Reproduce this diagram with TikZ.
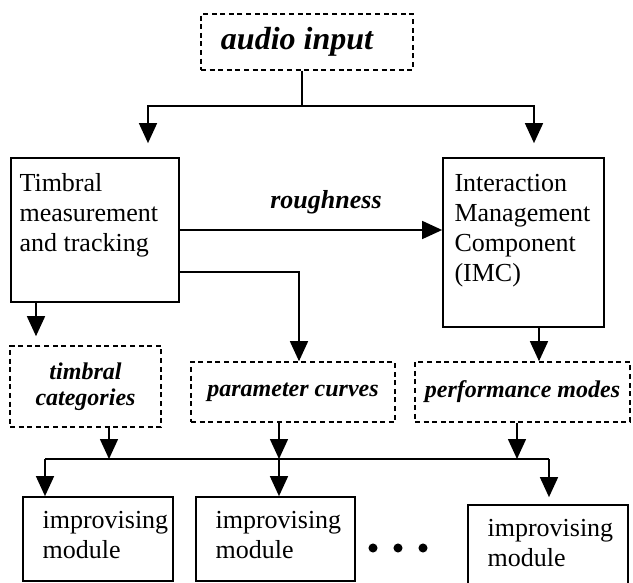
\documentclass[tikz,border=0pt]{standalone}
\usepackage{fontspec}
\setmainfont{Liberation Serif}
\usetikzlibrary{arrows.meta}

\begin{document}
\begin{tikzpicture}[x=0.5pt, y=-0.5pt,
            every node/.style = {font=\fontsize{13}{15}\selectfont},
            box/.style = {draw, line width=0.85pt, inner sep=0},
            dbox/.style = {draw, dashed, dash pattern=on 2.5pt off 1.8pt,
                line width=0.8pt, inner sep=0, align=center,
                font=\fontsize{12}{13}\selectfont\bfseries\itshape},
            txt/.style = {anchor=north west, align=left, inner sep=0},
            arr/.style = {line width=0.75pt, -{Triangle[width=9pt,length=10pt]}},
            line/.style = {line width=0.75pt},
            dot/.style = {circle, fill, inner sep=1.6pt}]

            \path[use as bounding box, clip] (0,0) rectangle (633,583);

            \node[dbox, minimum width=106pt, minimum height=28pt,
                font=\fontsize{16}{18}\selectfont\bfseries\itshape] (audio) at (307,42) {audio input\hspace{10pt}};

            \node[box, minimum width=84pt, minimum height=72pt] (timbral) at (95,230) {};
            \node[txt] (timbraltxt) at ([xshift=4.5pt,yshift=-8pt]timbral.north west)
                {Timbral\\measurement\\and tracking};
            \node[box, minimum width=80.5pt, minimum height=84.5pt] (imc) at (523.5,242.5) {};
            \node[txt] (imctxt) at ([xshift=6pt,yshift=-8.5pt]imc.north west)
                {Interaction\\Management\\Component\\(IMC)};

            \node[dbox, minimum width=75.5pt, minimum height=40.5pt] (cat) at (85.5,386.5) {timbral\\categories};
            \node[dbox, minimum width=102pt, minimum height=30pt] (param) at (293,392) {parameter curves};
            \node[dbox, minimum width=107.5pt, minimum height=30pt] (perf) at (522.5,392) {performance modes};

            \node[box, minimum width=75pt, minimum height=42pt] (mod1) at (98,539) {};
            \node[box, minimum width=79.5pt, minimum height=42pt] (mod2) at (275.5,539) {};
            \node[box, minimum width=80pt, minimum height=47.5pt] (mod3) at (548,552.5) {};
            \foreach \m in {1,2,3}
                \node[txt] (mod\m txt) at ([xshift=10pt,yshift=-7.5pt]mod\m.north west) {improvising\\module};
            \foreach \i/\x in {1/373,2/398,3/423}
                \node[dot] (dot\i) at (\x,548) {};

            \node[font=\fontsize{13}{15}\selectfont\bfseries\itshape] (rough) at (326,202) {roughness};

            \coordinate (split) at (302,106);
            \coordinate (busl) at (45,459);
            \coordinate (busr) at (549,459);

            \draw[line] (audio.south -| split) -- (split);
            \draw[arr, shorten >=7pt] (split) -| ([xshift=26.5pt]timbral.north);
            \draw[arr, shorten >=7pt] (split) -| ([xshift=5.25pt]imc.north);
            \draw[arr] (timbral) -- (timbral -| imc.west);
            \draw[arr] ([yshift=-21pt]timbral.east) -| ([xshift=3pt]param.north);
            \draw[arr, shorten >=4.5pt] ([xshift=-29.5pt]timbral.south)
                -- ([xshift=-29.5pt]timbral.south |- cat.north);
            \draw[arr] ([xshift=7.75pt]imc.south) -- ([xshift=7.75pt]imc.south |- perf.north);

            \draw[line] (busl) -- (busr);
            \draw[arr] ([xshift=11.75pt]cat.south) -- ([xshift=11.75pt]cat.south |- busl);
            \draw[arr] ([xshift=-7pt]param.south) -- ([xshift=-7pt]param.south |- busl);
            \draw[arr] ([xshift=-2.75pt]perf.south) -- ([xshift=-2.75pt]perf.south |- busr);
            \draw[arr] (busl) -- (busl |- mod1.north);
            \draw[arr] ([xshift=-7pt]param.south |- busl) -- ([xshift=-7pt]param.south |- mod2.north);
            \draw[arr, shorten >=3.5pt] (busr) -- (busr |- mod3.north);

        \end{tikzpicture}
\end{document}
